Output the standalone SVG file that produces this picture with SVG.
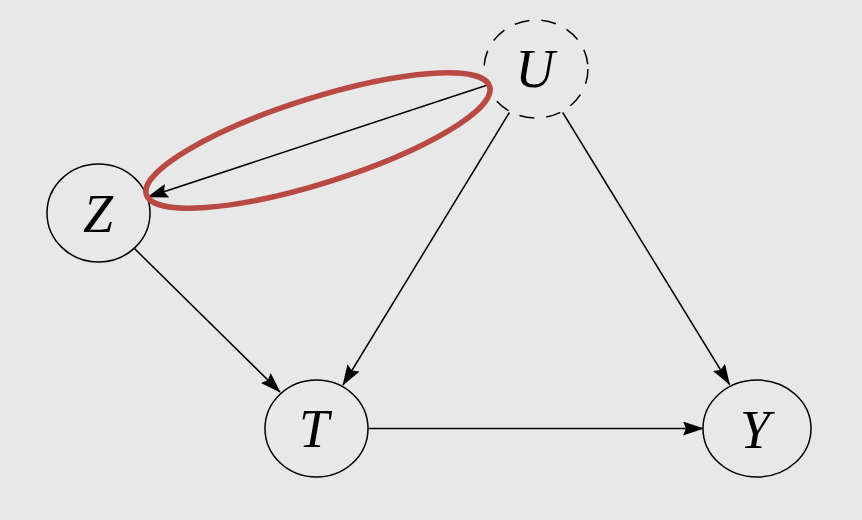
<svg xmlns="http://www.w3.org/2000/svg" width="862" height="520" viewBox="0 0 862 520">
<defs>
<style>
.node{fill:#e8e8e8;stroke:#000;stroke-width:1.5}
.dashed{stroke-dasharray:15 12}
.lbl{font-family:"Liberation Serif","DejaVu Serif",serif;font-style:italic;font-size:54px;fill:#000;text-anchor:middle}
.edge{stroke:#000;stroke-width:1.5;fill:none;marker-end:url(#arr)}
.hl{fill:none;stroke:#b94a43;stroke-width:5.5}
</style>
<marker id="arr" markerUnits="userSpaceOnUse" markerWidth="21" markerHeight="14" viewBox="0 0 21 14" refX="20" refY="7" orient="auto">
<path d="M0,0 L21,7 L0,14 L3,7 z" fill="#000"/>
</marker>
</defs>
<rect width="862" height="520" fill="#e8e8e8"/>
<g id="edges">
<line class="edge" x1="487.5" y1="85" x2="148" y2="197"/>
<line class="edge" x1="509.4" y1="112.5" x2="343" y2="385"/>
<line class="edge" x1="562.7" y1="112.5" x2="729.5" y2="384.5"/>
<line class="edge" x1="134.8" y1="248.9" x2="280" y2="392"/>
<line class="edge" x1="368" y1="428.5" x2="703" y2="428.5"/>
</g>
<g id="U">
<ellipse class="node dashed" cx="536" cy="69" rx="52" ry="49"/>
<text class="lbl" x="535" y="87">U</text>
</g>
<g id="Z">
<ellipse class="node" cx="98.5" cy="213" rx="51.5" ry="49"/>
<text class="lbl" x="98" y="231.5">Z</text>
</g>
<g id="T">
<ellipse class="node" cx="316.5" cy="428.5" rx="51.5" ry="48.5"/>
<text class="lbl" x="314" y="447">T</text>
</g>
<g id="Y">
<ellipse class="node" cx="757" cy="428.5" rx="54" ry="48.5"/>
<text class="lbl" x="755" y="447.5">Y</text>
</g>
<g id="highlight">
<ellipse class="hl" cx="318" cy="140.5" rx="180" ry="42.5" transform="rotate(-17.5 318 140.5)"/>
</g>
</svg>
